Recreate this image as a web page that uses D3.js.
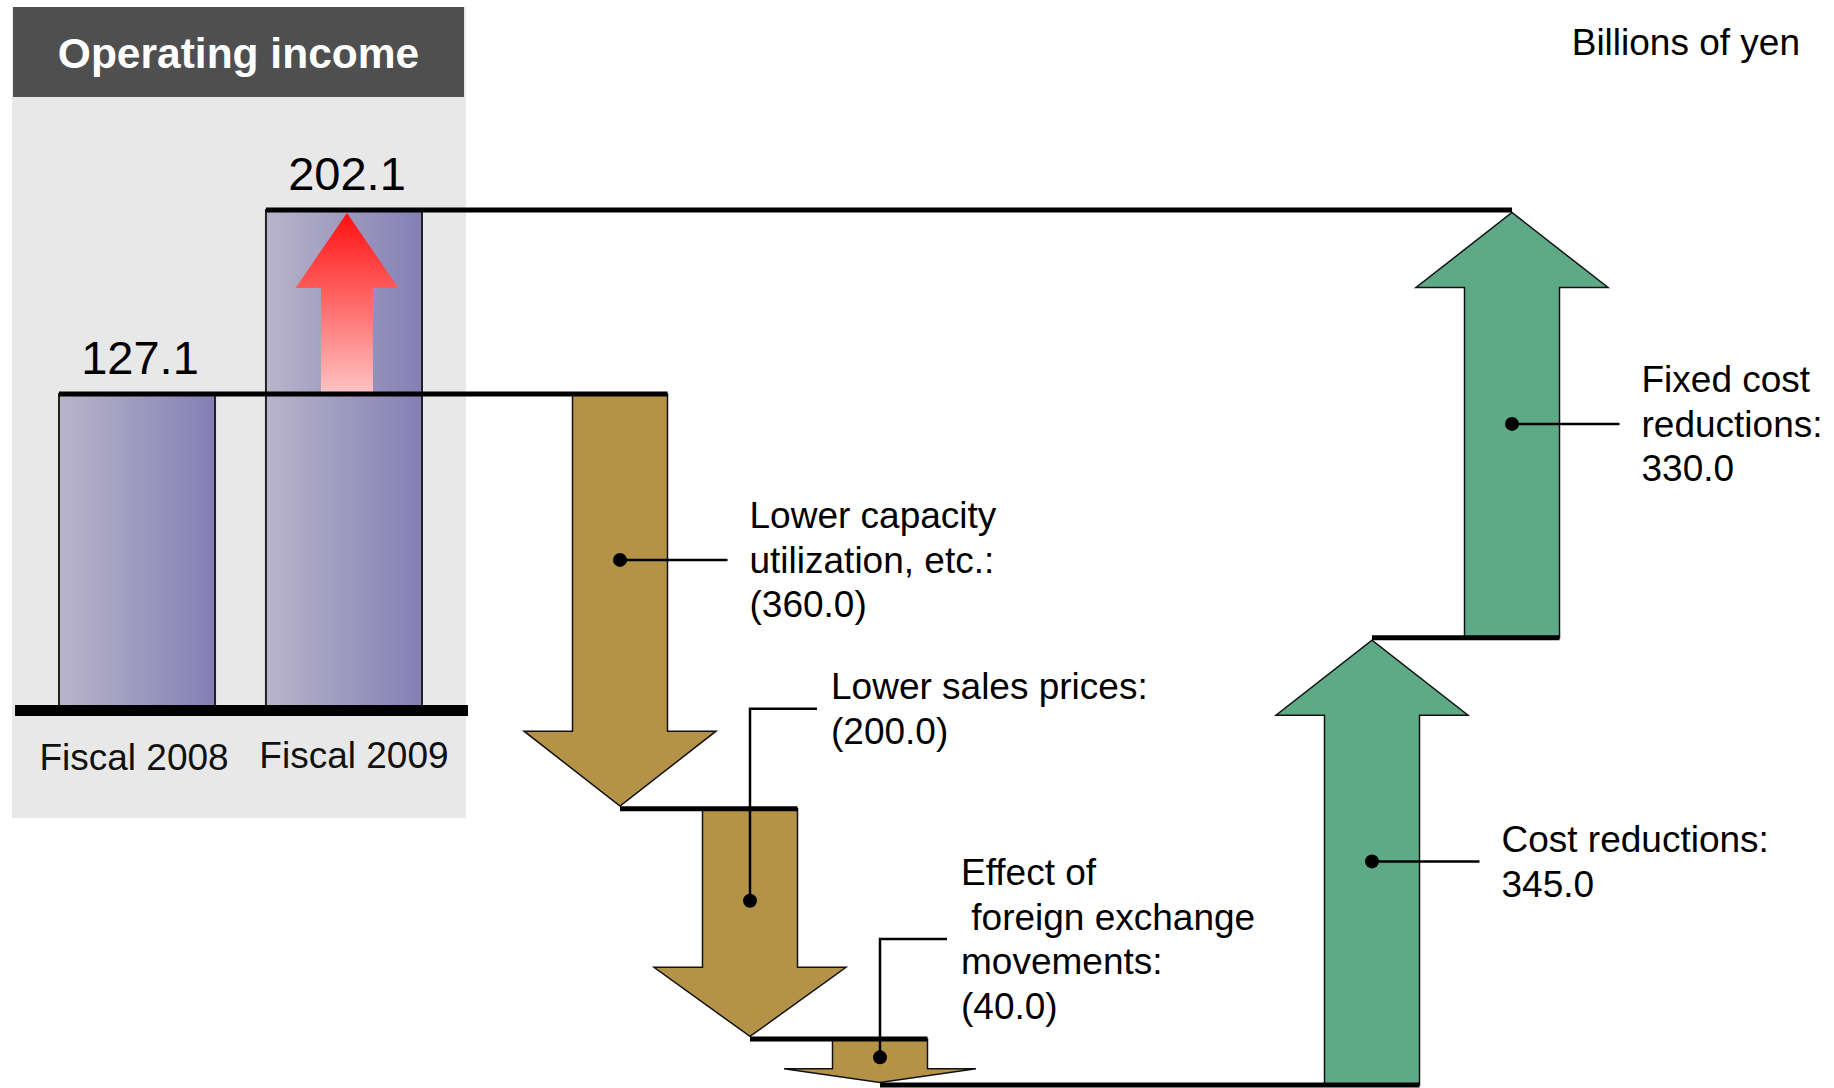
<!DOCTYPE html>
<html>
<head>
<meta charset="utf-8">
<script src="https://cdn.jsdelivr.net/npm/d3@7"></script>
<style>
  html, body { margin: 0; padding: 0; background: #fff; }
  svg { display: block; font-family: "Liberation Sans", Arial, Helvetica, sans-serif; }
  text { white-space: pre; }
</style>
</head>
<body>
<div id="chart"></div>
<script>
// ---- data ----
const title = "Operating income";
const unitLabel = "Billions of yen";
const years = ["Fiscal 2008", "Fiscal 2009"];
const income = [127.1, 202.1];
const steps = ["capacity", "prices", "fx", "cost", "fixed"];
const stepValues = [-360.0, -200.0, -40.0, 345.0, 330.0];
const stepLabels = [
  ["Lower capacity", "utilization, etc.:", "(360.0)"],
  ["Lower sales prices:", "(200.0)"],
  ["Effect of", " foreign exchange", "movements:", "(40.0)"],
  ["Cost reductions:", "345.0"],
  ["Fixed cost", "reductions:", "330.0"]
];

// ---- layout ----
const W = 1834, H = 1088;
const bottomY = 1085;
const shaftW = 95, headW = 192, maxHead = 75;
const leaderKind = ["straight", "elbow", "elbow", "straight", "straight"];
const fs = 37, lh = 44.5;
const brown = "#b49348", green = "#5eaa87";

const svg = d3.select("#chart").append("svg")
    .attr("width", W)
    .attr("height", H);

const defs = svg.append("defs");
const barGrad = defs.append("linearGradient").attr("id", "barGrad")
    .attr("x1", 0).attr("x2", 1).attr("y1", 0).attr("y2", 0);
barGrad.append("stop").attr("offset", 0).attr("stop-color", "#b8b5ca");
barGrad.append("stop").attr("offset", 1).attr("stop-color", "#847fb4");
const redGrad = defs.append("linearGradient").attr("id", "redGrad")
    .attr("x1", 0).attr("x2", 0).attr("y1", 0).attr("y2", 1);
redGrad.append("stop").attr("offset", 0).attr("stop-color", "#ff1010");
redGrad.append("stop").attr("offset", 1).attr("stop-color", "#ffc4c4");

// block arrow, works both ways
const arrowPath = (cx, yFrom, yTo, sw, hw, hl) => {
    const dir = yTo > yFrom ? 1 : -1;
    const yh = yTo - dir * hl;
    return "M" + [cx - sw / 2, yFrom] +
        "L" + [cx - sw / 2, yh] + "L" + [cx - hw / 2, yh] +
        "L" + [cx, yTo] +
        "L" + [cx + hw / 2, yh] + "L" + [cx + sw / 2, yh] +
        "L" + [cx + sw / 2, yFrom] + "Z";
};

// left panel
svg.append("rect").attr("x", 12).attr("y", 7).attr("width", 454).attr("height", 811).attr("fill", "#e8e8e8");
svg.append("rect").attr("x", 13).attr("y", 7).attr("width", 451).attr("height", 90).attr("fill", "#4f4f4f");
svg.append("text")
    .attr("x", 238.5).attr("y", 68)
    .attr("text-anchor", "middle")
    .attr("fill", "#fff")
    .style("font-size", "42.5px").style("font-weight", "bold")
    .text(title);

svg.append("text")
    .attr("x", 1800).attr("y", 55)
    .attr("text-anchor", "end")
    .style("font-size", fs + "px")
    .text(unitLabel);

// bars
const x = d3.scaleBand().domain(years).range([59, 422]).paddingInner(0.246).paddingOuter(0);
const y = d3.scaleLinear().domain([0, d3.max(income)]).range([706, 210]);
const bw = x.bandwidth();

svg.append("g").selectAll("rect")
    .data(income)
  .enter().append("rect")
    .attr("x", (d, i) => x(years[i]))
    .attr("y", d => y(d))
    .attr("width", bw)
    .attr("height", d => y(0) - y(d))
    .attr("fill", "url(#barGrad)")
    .attr("stroke", "#222")
    .attr("stroke-width", 2);

// red rise arrow inside the fiscal 2009 bar
svg.append("path")
    .attr("d", arrowPath(x(years[1]) + bw / 2 + 3, y(income[0]), y(income[1]) + 3, 52, 103, 75))
    .attr("fill", "url(#redGrad)");

svg.append("rect")
    .attr("x", 15).attr("y", y(0) - 1)
    .attr("width", 453).attr("height", 11)
    .attr("fill", "#000");

svg.append("g").selectAll("text")
    .data(income)
  .enter().append("text")
    .attr("x", (d, i) => x(years[i]) + bw / 2 + 3)
    .attr("y", d => y(d) - 20)
    .attr("text-anchor", "middle")
    .style("font-size", "47px")
    .text(d => d.toFixed(1));

svg.append("g").selectAll("text")
    .data(years)
  .enter().append("text")
    .attr("x", (d, i) => x(d) + bw / 2 - 3 + i * 13)
    .attr("y", (d, i) => y(0) + 64 - i * 2)
    .attr("text-anchor", "middle")
    .attr("fill", "#111")
    .style("font-size", fs + "px")
    .text(d => d);

// waterfall
const start = income[0];
let run = start;
const wf = stepValues.map((v, i) => {
    const from = run;
    run += v;
    return {name: steps[i], value: v, from: from, to: run, lines: stepLabels[i], kind: leaderKind[i]};
});
const bottom = d3.min(wf, d => d.to);
const downSteps = wf.filter(d => d.value < 0).map(d => d.name);
const upSteps = wf.filter(d => d.value > 0).map(d => d.name);

const xDown = d3.scalePoint().domain(downSteps).range([620, 880]);
const xUp = d3.scalePoint().domain(upSteps).range([1372, 1512]);
const yDown = d3.scaleLinear().domain([start, bottom]).range([y(start), bottomY]);
const yUp = d3.scaleLinear().domain([bottom, income[1]]).range([bottomY, y(income[1])]);

wf.forEach(d => {
    const down = d.value < 0;
    d.cx = down ? xDown(d.name) : xUp(d.name);
    d.y0 = down ? yDown(d.from) : yUp(d.from);
    d.y1 = down ? yDown(d.to) : yUp(d.to);
    d.color = down ? brown : green;
    d.dotY = d.y0 + (d.y1 - d.y0) * (down ? 0.4 : 0.5);
});

svg.append("g").selectAll("path")
    .data(wf)
  .enter().append("path")
    .attr("d", d => {
        const len = Math.abs(d.y1 - d.y0);
        const tip = d.y1 - Math.sign(d.y1 - d.y0) * 2.5;
        return arrowPath(d.cx, d.y0, tip, shaftW, headW, Math.min(maxHead, len * 0.3));
    })
    .attr("fill", d => d.color)
    .attr("stroke", "#111")
    .attr("stroke-width", 1.5);

// level lines
const levels = [{x1: x(years[0]), x2: wf[0].cx + shaftW / 2, y: y(start)}];
wf.forEach((d, i) => {
    if (i < wf.length - 1) {
        levels.push({x1: d.cx, x2: wf[i + 1].cx + shaftW / 2, y: d.y1});
    }
});
levels.push({x1: x(years[1]), x2: wf[wf.length - 1].cx, y: y(income[1])});

svg.append("g").selectAll("line")
    .data(levels)
  .enter().append("line")
    .attr("x1", d => d.x1).attr("x2", d => d.x2)
    .attr("y1", d => d.y).attr("y2", d => d.y)
    .attr("stroke", "#000")
    .attr("stroke-width", 5);

// leaders and labels
const lab = svg.append("g");
wf.forEach(d => {
    let tx, cy;
    if (d.kind === "elbow") {
        cy = d.y0 - 100;
        const ex = d.cx + 67;
        lab.append("path")
            .attr("d", "M" + [d.cx, d.dotY] + "L" + [d.cx, cy] + "L" + [ex, cy])
            .attr("fill", "none").attr("stroke", "#000").attr("stroke-width", 2.5);
        tx = ex + 14;
    } else {
        cy = d.dotY;
        const ex = d.cx + shaftW / 2 + 60;
        lab.append("line")
            .attr("x1", d.cx).attr("x2", ex)
            .attr("y1", cy).attr("y2", cy)
            .attr("stroke", "#000").attr("stroke-width", 2.5);
        tx = ex + 22;
    }
    lab.append("circle").attr("cx", d.cx).attr("cy", d.dotY).attr("r", 7).attr("fill", "#000");
    const n = d.lines.length;
    lab.append("g").selectAll("text")
        .data(d.lines)
      .enter().append("text")
        .attr("x", tx)
        .attr("y", (t, k) => cy + fs * 0.35 + (k - (n - 1) / 2) * lh)
        .style("font-size", fs + "px")
        .text(t => t);
});
</script>
</body>
</html>
